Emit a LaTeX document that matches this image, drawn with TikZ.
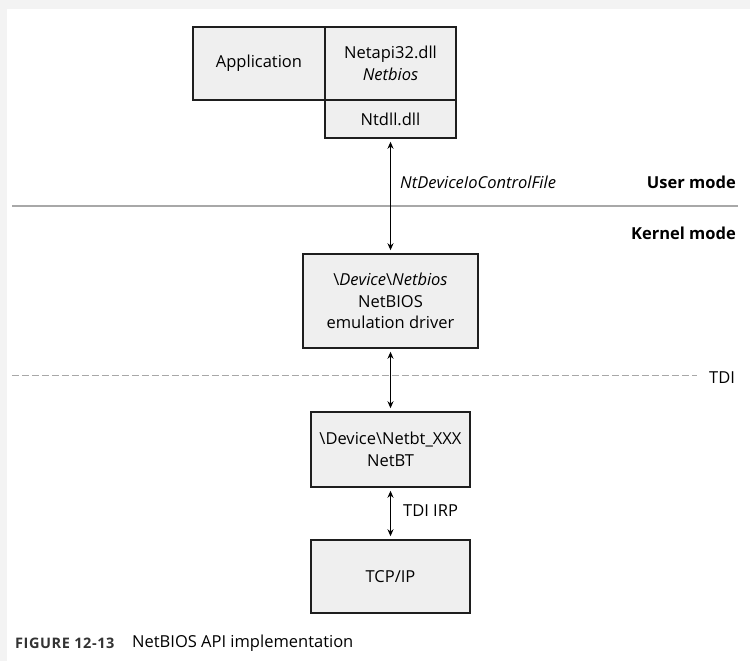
\documentclass[tikz,border=0pt]{standalone}
\usepackage{fontspec}
\setmainfont{Open Sans}
\usetikzlibrary{arrows.meta}
\definecolor{boxfill}{HTML}{EFEFEF}
\definecolor{boxline}{HTML}{1E1E1E}
\definecolor{sepline}{HTML}{A8A8A8}
\definecolor{edgegray}{HTML}{F3F3F3}
\definecolor{captxt}{HTML}{333333}
\begin{document}
\begin{tikzpicture}[x=1pt,y=-1pt,
  box/.style={draw=boxline, fill=boxfill, line width=1.5pt, inner sep=0pt, align=center,
              font=\fontsize{16.5}{21.5}\selectfont},
  lbl/.style={inner sep=0pt, font=\fontsize{16.5}{21.5}\selectfont},
  conn/.style={line width=1.5pt, shorten <=3pt, shorten >=3pt,
               {Stealth[length=7pt,width=6pt]}-{Stealth[length=7pt,width=6pt]}},
  sep/.style={draw=sepline, line width=1.2pt},
]
\useasboundingbox (0,0) rectangle (750,661);
\fill[edgegray] (0,0) rectangle (750,9);
\fill[edgegray] (0,0) rectangle (7,661);

% boxes
\node[box, minimum width=132pt, minimum height=73pt] (app) at (259,63.5) {Application};
\node[box, minimum width=131pt, minimum height=73pt] (netapi) at (390.5,63.5) {Netapi32.dll\\\itshape Netbios};
\node[box, minimum width=131pt, minimum height=38pt] (ntdll) at (390.5,119) {Ntdll.dll};
\node[box, minimum width=175pt, minimum height=94pt] (netbios) at (390.5,301)
  {\textbackslash\textit{Device}\textbackslash\textit{Netbios}\\NetBIOS\\emulation driver};
\node[box, minimum width=159pt, minimum height=75pt] (netbt) at (390.5,449.5)
  {\textbackslash Device\textbackslash Netbt\_XXX\\NetBT};
\node[box, minimum width=159pt, minimum height=73pt] (tcpip) at (390.5,576.5) {TCP/IP};

% separators
\coordinate (uml) at (12,206);
\coordinate (umr) at (738,206);
\draw[sep] (uml) -- (umr);
\coordinate (tdil) at (12,375);
\coordinate (tdir) at (697,375);
\draw[sep, line width=1pt, dash pattern=on 7pt off 3pt] (tdil) -- (tdir);

% connectors
\draw[conn] (ntdll.south) -- (netbios.north);
\draw[conn] (netbios.south) -- (netbt.north);
\draw[conn] (netbt.south) -- (tcpip.north);

% labels
\node[lbl, anchor=west] (ioctl) at (400,182) {\itshape NtDeviceIoControlFile};
\node[lbl, anchor=east] (user) at (736,182) {\bfseries User mode};
\node[lbl, anchor=east] (kernel) at (736,233) {\bfseries Kernel mode};
\node[lbl, anchor=west] (tdi) at (709,378) {TDI};
\node[lbl, anchor=west] (tdiirp) at (403,511) {TDI IRP};

% caption
\node[inner sep=0pt, anchor=west, text=captxt, font=\fontsize{14.5}{16}\selectfont\bfseries\addfontfeatures{LetterSpace=4}] (capnum) at (15,643) {FIGURE 12-13};
\node[inner sep=0pt, anchor=west, font=\fontsize{16.5}{20}\selectfont] (captxt) at (132,643) {NetBIOS API implementation};
\end{tikzpicture}
\end{document}
